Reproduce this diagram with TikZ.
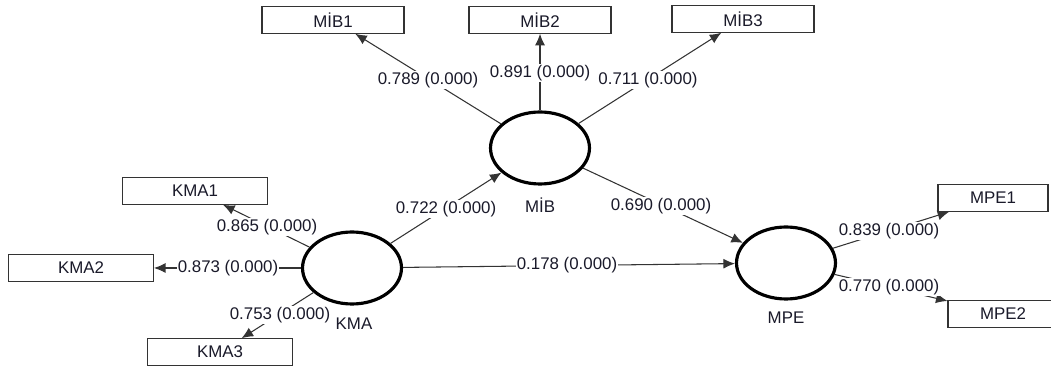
\documentclass[tikz,border=0pt]{standalone}
\usepackage{fontspec}
\setmainfont{Liberation Sans}
\usetikzlibrary{shapes.geometric,arrows.meta}
\definecolor{linegray}{HTML}{333333}
\definecolor{txt}{HTML}{1A1A2A}
\begin{document}
\begin{tikzpicture}[x=0.02cm,y=-0.02cm,
  every node/.style={font=\fontsize{9.6}{11}\selectfont, text=txt},
  ind/.style={draw=linegray, line width=0.6pt, rectangle, minimum height=0.53cm, inner sep=0pt, fill=white},
  indmib/.style={ind, minimum width=2.84cm},
  indkma/.style={ind, minimum width=2.90cm},
  indmpe/.style={ind, minimum width=2.20cm},
  lat/.style={draw=black, line width=1.8pt, ellipse, minimum width=1.98cm, minimum height=1.44cm, inner sep=0pt},
  con/.style={draw=linegray, line width=0.6pt, -{Latex[length=2.3mm,width=2mm]}},
  lbl/.style={fill=white, inner sep=0.6pt},
  latname/.style={}
]
\useasboundingbox (0,0) rectangle (1051,367);
% latent variables
\node[lat] (MIB) at (540,148) {};
\node[lat] (KMA) at (352,268) {};
\node[lat] (MPE) at (786,263) {};
\node[latname] (MIBl) at (540,205) {MİB};
\node[latname] (KMAl) at (354,324) {KMA};
\node[latname] (MPEl) at (786,318) {MPE};
% indicators
\node[indmib] (MIB1) at (333,20) {MİB1};
\node[indmib] (MIB2) at (540,20) {MİB2};
\node[indmib] (MIB3) at (743,19) {MİB3};
\node[indkma] (KMA1) at (195,191) {KMA1};
\node[indkma] (KMA2) at (81,268) {KMA2};
\node[indkma] (KMA3) at (220,352) {KMA3};
\node[indmpe] (MPE1) at (993,198) {MPE1};
\node[indmpe] (MPE2) at (1003,314) {MPE2};
% connectors
\draw[con] (MIB) -- (MIB1);
\draw[con] (MIB) -- (MIB2);
\draw[con] (MIB) -- (MIB3);
\draw[con] (KMA) -- (KMA1);
\draw[con] (KMA) -- (KMA2);
\draw[con] (KMA) -- (KMA3);
\draw[con] (MPE) -- (MPE1);
\draw[con] (MPE) -- (MPE2);
\draw[con] (KMA) -- (MIB);
\draw[con] (MIB) -- (MPE);
\draw[con] (KMA) -- (MPE);
% labels
\node[lbl] (l1) at (428,80) {0.789 (0.000)};
\node[lbl] (l2) at (540,73) {0.891 (0.000)};
\node[lbl] (l3) at (648,80) {0.711 (0.000)};
\node[lbl] (l4) at (446,209) {0.722 (0.000)};
\node[lbl] (l5) at (661,206) {0.690 (0.000)};
\node[lbl] (l6) at (267,227) {0.865 (0.000)};
\node[lbl] (l7) at (228,268) {0.873 (0.000)};
\node[lbl] (l8) at (280,315) {0.753 (0.000)};
\node[lbl] (l9) at (567,265) {0.178 (0.000)};
\node[lbl] (l10) at (889,231) {0.839 (0.000)};
\node[lbl] (l11) at (889,287) {0.770 (0.000)};
\end{tikzpicture}
\end{document}
